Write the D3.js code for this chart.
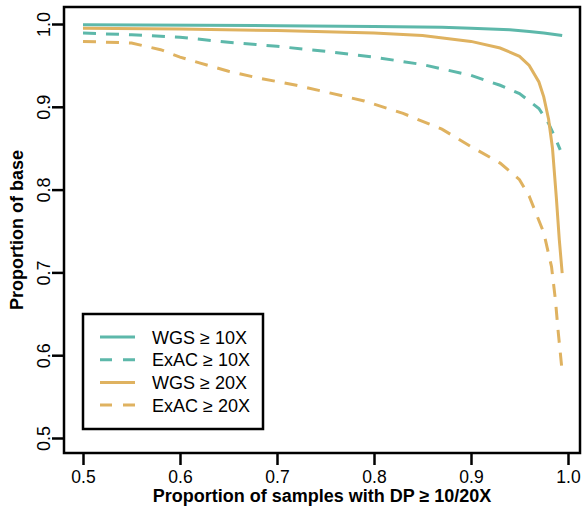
<!DOCTYPE html>
<html>
<head>
    <script src="https://d3js.org/d3.v7.min.js"></script>
    <style>
      body { margin: 0; background: #fff; }
      text { font-family: "Liberation Sans", Arial, sans-serif; }
    </style>
</head>
<body>
<script>
  var width = 586;
  var height = 510;

  // values
  var wgs10 = [[0.5,0.999],[0.7,0.998],[0.8,0.997],[0.87,0.996],[0.9,0.995],[0.94,0.993],[0.96,0.991],[0.975,0.989],[0.994,0.986]];
  var exac10 = [[0.5,0.989],[0.55,0.987],[0.6,0.984],[0.65,0.978],[0.7,0.973],[0.75,0.967],[0.8,0.960],[0.85,0.951],[0.9,0.938],[0.93,0.926],[0.95,0.916],[0.97,0.898],[0.98,0.880],[0.987,0.862],[0.992,0.848]];
  var wgs20 = [[0.5,0.995],[0.6,0.994],[0.7,0.992],[0.8,0.989],[0.85,0.986],[0.9,0.979],[0.93,0.971],[0.95,0.961],[0.96,0.950],[0.97,0.930],[0.975,0.912],[0.98,0.885],[0.984,0.85],[0.988,0.79],[0.991,0.74],[0.994,0.699]];
  var exac20 = [[0.5,0.979],[0.55,0.977],[0.58,0.969],[0.6,0.960],[0.62,0.953],[0.65,0.943],[0.68,0.935],[0.72,0.926],[0.75,0.918],[0.79,0.907],[0.83,0.892],[0.87,0.873],[0.9,0.852],[0.93,0.832],[0.95,0.812],[0.96,0.792],[0.975,0.748],[0.983,0.707],[0.987,0.667],[0.99,0.627],[0.994,0.580]];

  var seriesNames = ["WGS \u2265 10X", "ExAC \u2265 10X", "WGS \u2265 20X", "ExAC \u2265 20X"];
  var xTicks = [0.5, 0.6, 0.7, 0.8, 0.9, 1.0];
  var yTicks = [0.5, 0.6, 0.7, 0.8, 0.9, 1.0];

  var teal = "#5db8aa";
  var gold = "#dfb260";
  var series = [
    {name: seriesNames[0], data: wgs10, color: teal, dash: null},
    {name: seriesNames[1], data: exac10, color: teal, dash: "13,10"},
    {name: seriesNames[2], data: wgs20, color: gold, dash: null},
    {name: seriesNames[3], data: exac20, color: gold, dash: "13,10"}
  ];

  var box = {left: 64, right: 580, top: 7, bottom: 453};

  var x = d3.scaleLinear().domain([0.5, 1.0]).range([83, 568]);
  var y = d3.scaleLinear().domain([0.5, 1.0]).range([438, 24]);

  var svg = d3.select("body").append("svg")
    .attr("width", width)
    .attr("height", height);

  var line = d3.line()
    .x(function(d) { return x(d[0]); })
    .y(function(d) { return y(d[1]); });

  svg.selectAll(".series").data(series).enter()
    .append("path")
    .attr("class", "series")
    .attr("d", function(s) { return line(s.data); })
    .attr("fill", "none")
    .attr("stroke", function(s) { return s.color; })
    .attr("stroke-width", 3)
    .attr("stroke-dasharray", function(s) { return s.dash; });

  // frame
  svg.append("rect")
    .attr("x", box.left).attr("y", box.top)
    .attr("width", box.right - box.left).attr("height", box.bottom - box.top)
    .attr("fill", "none").attr("stroke", "#000").attr("stroke-width", 2.5);

  // x axis
  var xAxis = svg.append("g").attr("transform", "translate(0," + box.bottom + ")")
    .call(d3.axisBottom(x).tickValues(xTicks).tickSize(12)
      .tickFormat(d3.format(".1f")));
  xAxis.select(".domain").remove();
  xAxis.selectAll("line").attr("stroke-width", 2.5);
  xAxis.selectAll("text")
    .attr("y", 30).attr("dy", null)
    .attr("font-size", 17.5).attr("fill", "#000")
    .style("font-family", "Liberation Sans, Arial, sans-serif");

  // y axis
  var yAxis = svg.append("g").attr("transform", "translate(" + box.left + ",0)")
    .call(d3.axisLeft(y).tickValues(yTicks).tickSize(12).tickFormat(d3.format(".1f")));
  yAxis.select(".domain").remove();
  yAxis.selectAll("line").attr("stroke-width", 2.5);
  yAxis.selectAll("text")
    .attr("x", null).attr("dy", null)
    .attr("text-anchor", "middle")
    .attr("transform", function(d) { return "translate(-14,0) rotate(-90)"; })
    .attr("font-size", 18).attr("fill", "#000")
    .style("font-family", "Liberation Sans, Arial, sans-serif");

  // axis titles
  svg.append("text")
    .attr("x", (box.left + box.right) / 2).attr("y", 502)
    .attr("text-anchor", "middle")
    .attr("font-size", 18).attr("font-weight", "bold")
    .text("Proportion of samples with DP \u2265 10/20X");

  svg.append("text")
    .attr("transform", "translate(23," + (box.top + box.bottom) / 2 + ") rotate(-90)")
    .attr("text-anchor", "middle")
    .attr("font-size", 18).attr("font-weight", "bold")
    .text("Proportion of base");

  // legend
  var legend = svg.append("g");
  legend.append("rect")
    .attr("x", 83).attr("y", 314).attr("width", 180).attr("height", 115)
    .attr("fill", "#fff").attr("stroke", "#000").attr("stroke-width", 2.5);

  var rows = legend.selectAll(".row").data(series).enter()
    .append("g").attr("class", "row")
    .attr("transform", function(s, i) { return "translate(0," + (337 + i * 22.7) + ")"; });
  rows.append("line")
    .attr("x1", 100).attr("x2", 135)
    .attr("stroke", function(s) { return s.color; })
    .attr("stroke-width", 3)
    .attr("stroke-dasharray", function(s) { return s.dash ? "12,11" : null; });
  rows.append("text")
    .attr("x", 152).attr("y", 6.5)
    .attr("font-size", 18)
    .text(function(s) { return s.name; });
</script>
</body>
</html>
